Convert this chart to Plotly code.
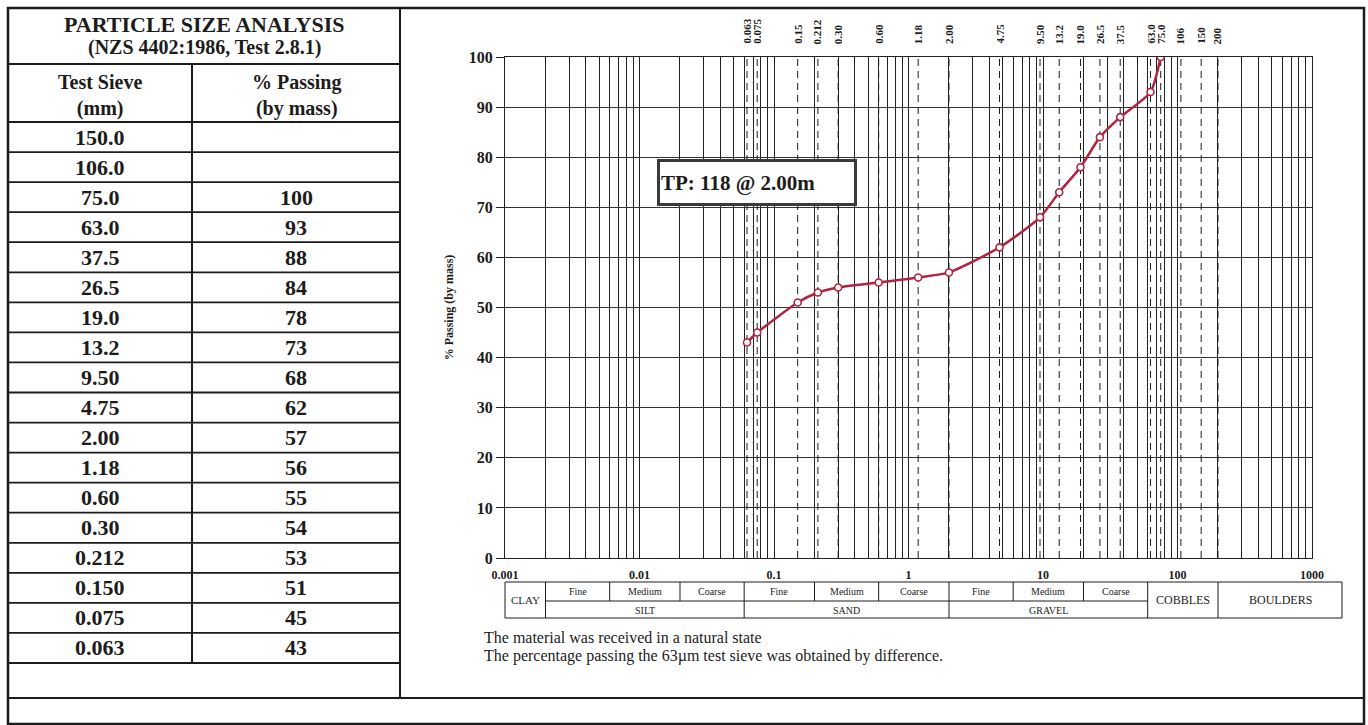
import math
import plotly.graph_objects as go

# ---- test data -------------------------------------------------------------
table_sieve = ["150.0", "106.0", "75.0", "63.0", "37.5", "26.5", "19.0", "13.2", "9.50",
               "4.75", "2.00", "1.18", "0.60", "0.30", "0.212", "0.150", "0.075", "0.063"]
table_passing = [None, None, 100, 93, 88, 84, 78, 73, 68, 62, 57, 56, 55, 54, 53, 51, 45, 43]

# sieve apertures marked on the chart (mm)
sieve_marks = [0.063, 0.075, 0.15, 0.212, 0.30, 0.60, 1.18, 2.00, 4.75, 9.50, 13.2,
               19.0, 26.5, 37.5, 63.0, 75.0, 106, 150, 200]
sieve_mark_labels = ["0.063", "0.075", "0.15", "0.212", "0.30", "0.60", "1.18", "2.00",
                     "4.75", "9.50", "13.2", "19.0", "26.5", "37.5", "63.0", "75.0",
                     "106", "150", "200"]

x_tick_vals = [0.001, 0.01, 0.1, 1, 10, 100, 1000]
x_tick_text = ["0.001", "0.01", "0.1", "1", "10", "100", "1000"]

# soil classification bands (mm)
band_major = [0.002, 0.06, 2, 60, 200]
band_minor = [0.006, 0.02, 0.2, 0.6, 6, 20]
sub_labels = ["Fine", "Medium", "Coarse", "Fine", "Medium", "Coarse", "Fine", "Medium", "Coarse"]
sub_edges = [0.002, 0.006, 0.02, 0.06, 0.2, 0.6, 2, 6, 20, 60]
main_labels = ["SILT", "SAND", "GRAVEL"]
main_edges = [0.002, 0.06, 2, 60]

title_lines = ["PARTICLE SIZE ANALYSIS", "(NZS 4402:1986, Test 2.8.1)"]
col_heads = ["Test Sieve<br>(mm)", "% Passing<br>(by mass)"]
notes = ["The material was received in a natural state",
         "The percentage passing the 63\u00b5m test sieve was obtained by difference."]
tp_text = "TP: 118 @ 2.00m"

# ---- page geometry ---------------------------------------------------------
W, H = 1368, 725
SERIF = "Liberation Serif"
INK = "#1c1c1c"
RED = "#b3223f"


def px(x):
    return x / W


def py(y):
    return 1 - y / H


PL, PR, PT, PB = 505, 1312, 57, 558

curve_x = [float(s) for s, p in zip(table_sieve, table_passing) if p is not None]
curve_y = [p for p in table_passing if p is not None]

# grid positions for every 1..9 step in each decade
grid_vals = []
for d in range(-3, 3):
    for k in range(1, 10):
        grid_vals.append(k * 10 ** d)
grid_vals.append(1000)
grid_text = [x_tick_text[x_tick_vals.index(v)] if v in x_tick_vals else "" for v in grid_vals]

fig = go.Figure()

# dashed sieve lines
dx, dy = [], []
for s in sieve_marks:
    dx += [s, s, None]
    dy += [0, 100, None]
fig.add_trace(go.Scatter(x=dx, y=dy, mode="lines", hoverinfo="skip",
                         line=dict(color=INK, width=1, dash="7px,5px"), showlegend=False))

# grading curve
fig.add_trace(go.Scatter(
    x=curve_x, y=curve_y, mode="lines+markers", showlegend=False,
    line=dict(color=RED, width=2.5, shape="spline", smoothing=0.6),
    marker=dict(symbol="circle", size=7, color="white", line=dict(color=RED, width=1.6)),
))

fig.update_layout(
    width=W, height=H, autosize=False,
    margin=dict(l=0, r=0, t=0, b=0),
    paper_bgcolor="white", plot_bgcolor="white",
    font=dict(family=SERIF, color=INK),
    xaxis=dict(type="log", range=[-3, 3], domain=[px(PL), px(PR)],
               tickvals=grid_vals, ticktext=grid_text, ticks="",
               tickfont=dict(size=12, weight="bold", family=SERIF),
               ticklabelstandoff=6,
               showgrid=True, gridcolor="#222", gridwidth=1,
               zeroline=False, showline=True, linecolor="#222", linewidth=1, mirror=True,
               automargin=False),
    yaxis=dict(range=[0, 100], domain=[py(PB), py(PT)],
               tickvals=list(range(0, 101, 10)), ticks="outside", ticklen=8,
               tickcolor="#222", tickfont=dict(size=16, weight="bold", family=SERIF),
               showgrid=True, gridcolor="#333", gridwidth=1,
               zeroline=False, showline=True, linecolor="#222", linewidth=1, mirror=True,
               title=dict(text="% Passing (by mass)", standoff=12,
                          font=dict(size=12, weight="bold", family=SERIF)),
               automargin=False),
)

shapes = []
annotations = []


def hline(x0, x1, y, w=1.5, color=INK):
    shapes.append(dict(type="line", xref="paper", yref="paper", x0=px(x0), x1=px(x1),
                       y0=py(y), y1=py(y), line=dict(color=color, width=w)))


def vline(x, y0, y1, w=1.5, color=INK):
    shapes.append(dict(type="line", xref="paper", yref="paper", x0=px(x), x1=px(x),
                       y0=py(y0), y1=py(y1), line=dict(color=color, width=w)))


def label(x, y, text, size, bold=True, xanchor="center", color=INK):
    annotations.append(dict(xref="paper", yref="paper", x=px(x), y=py(y), text=text,
                            showarrow=False, xanchor=xanchor, yanchor="middle",
                            font=dict(family=SERIF, size=size, color=color,
                                      weight="bold" if bold else "normal")))


def band_label(xv, y, text, size):
    annotations.append(dict(xref="x", yref="paper", x=xv, y=py(y), text=text,
                            showarrow=False, xanchor="center", yanchor="middle",
                            font=dict(family=SERIF, size=size, color=INK)))


# outer frame and panels
shapes.append(dict(type="rect", xref="paper", yref="paper", x0=px(8), x1=px(1364),
                   y0=py(724), y1=py(8), line=dict(color=INK, width=2.5)))
vline(400, 8, 698, w=2)
hline(8, 1364, 698, w=2)

# results table
TL, TC, TR = 8, 192, 400
hline(TL, TR, 64, w=2)
hline(TL, TR, 122, w=2)
vline(TC, 64, 663, w=2)
row_h = (663 - 122) / len(table_sieve)
for i in range(len(table_sieve) + 1):
    hline(TL, TR, 122 + i * row_h, w=1.8)

label((TL + TR) / 2, 25, title_lines[0], 22)
label((TL + TR) / 2, 47, title_lines[1], 20)
label((TL + TC) / 2, 95, col_heads[0], 20)
label((TC + TR) / 2, 95, col_heads[1], 20)
for i, (s, p) in enumerate(zip(table_sieve, table_passing)):
    yc = 122 + (i + 0.5) * row_h
    label((TL + TC) / 2, yc, s, 22)
    if p is not None:
        label((TC + TR) / 2, yc, str(p), 22)

# sieve labels above the plot
for s, t in zip(sieve_marks, sieve_mark_labels):
    annotations.append(dict(xref="x", yref="paper", x=math.log10(s), y=py(46), text=t,
                            showarrow=False, textangle=-90, xanchor="center",
                            yanchor="bottom",
                            font=dict(family=SERIF, size=11, weight="bold", color=INK)))

# test pit tag
annotations.append(dict(xref="paper", yref="paper", x=px(657), y=py(183), text=tp_text,
                        showarrow=False, xanchor="left", yanchor="middle", align="left",
                        width=192, height=39, bgcolor="white", bordercolor="#3a3a3a",
                        borderwidth=3, borderpad=1,
                        font=dict(family=SERIF, size=21, weight="bold", color=INK)))

# classification strip
CT, CM, CB, CR = 582, 601, 618, 1342
hline(PL, CR, CT, w=1)
hline(PL, CR, CB, w=1)
shapes.append(dict(type="line", xref="x", yref="paper", x0=band_major[0], x1=band_major[3],
                   y0=py(CM), y1=py(CM), line=dict(color=INK, width=1)))
vline(PL, CT, CB, w=1)
vline(CR, CT, CB, w=1)
for v in band_major:
    shapes.append(dict(type="line", xref="x", yref="paper", x0=v, x1=v,
                       y0=py(CB), y1=py(CT), line=dict(color=INK, width=1)))
for v in band_minor:
    shapes.append(dict(type="line", xref="x", yref="paper", x0=v, x1=v,
                       y0=py(CM), y1=py(CT), line=dict(color=INK, width=1)))


def xmid(a, b):
    return (math.log10(a) + math.log10(b)) / 2


for i, t in enumerate(sub_labels):
    band_label(xmid(sub_edges[i], sub_edges[i + 1]), (CT + CM) / 2, t, 10)
for i, t in enumerate(main_labels):
    band_label(xmid(main_edges[i], main_edges[i + 1]), (CM + CB) / 2 + 0.5, t, 10)
band_label(xmid(0.001, 0.002), (CT + CB) / 2, "CLAY", 11)
band_label(xmid(60, 200), (CT + CB) / 2, "COBBLES", 12)
label((1219 + CR) / 2, (CT + CB) / 2, "BOULDERS", 12, bold=False)

# notes
label(482, 637, notes[0], 16, bold=False, xanchor="left")
label(482, 656, notes[1], 16, bold=False, xanchor="left")

fig.update_layout(shapes=shapes, annotations=annotations)
fig.write_html("out.html")
